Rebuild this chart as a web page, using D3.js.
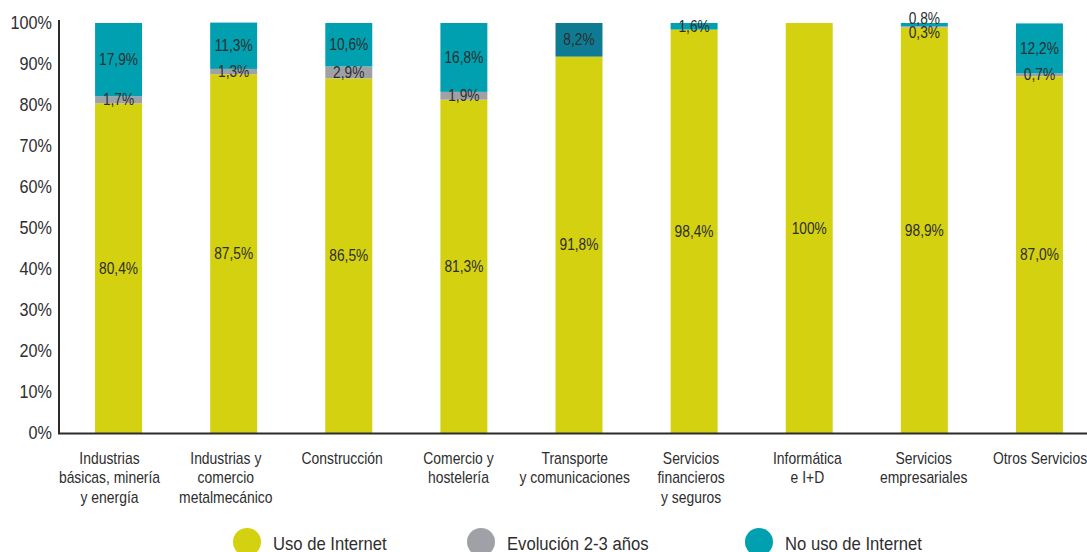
<!DOCTYPE html>
<html>
<head>
<meta charset="utf-8">
<script src="https://cdn.jsdelivr.net/npm/d3@7"></script>
<style>
  html, body { margin: 0; padding: 0; background: #fff; }
  svg { display: block; }
</style>
</head>
<body>
<script>
// ---- Data ----
const categories = [
  "Industrias\nbásicas, minería\ny energía",
  "Industrias y\ncomercio\nmetalmecánico",
  "Construcción",
  "Comercio y\nhostelería",
  "Transporte\ny comunicaciones",
  "Servicios\nfinancieros\ny seguros",
  "Informática\ne I+D",
  "Servicios\nempresariales",
  "Otros Servicios"
];
const seriesNames = ["Uso de Internet", "Evolución 2-3 años", "No uso de Internet"];
const usoInternet   = [80.4, 87.5, 86.5, 81.3, 91.8, 98.4, 100, 98.9, 87.0];
const evolucion     = [1.7, 1.3, 2.9, 1.9, 0, 0, 0, 0.3, 0.7];
const noUsoInternet = [17.9, 11.3, 10.6, 16.8, 8.2, 1.6, 0, 0.8, 12.2];
const yTicks = [0, 10, 20, 30, 40, 50, 60, 70, 80, 90, 100];

// ---- Layout ----
const W = 1087, H = 552;
const colors = ["#d4d110", "#a0a1a6", "#00a0b0"];
const darkTeal = "#0f7b93";
const font = "'Liberation Sans', Arial, Helvetica, sans-serif";
const txtColor = "#2e2e2e";

const svg = d3.select("body").append("svg").attr("width", W).attr("height", H);

// condensed text helper (horizontal squeeze of Liberation Sans)
function ctext(px, py, fs, sx, anchor) {
  return svg.append("text")
    .attr("transform", `translate(${px},${py}) scale(${sx},1)`)
    .attr("text-anchor", anchor)
    .attr("font-family", font)
    .attr("font-size", fs)
    .attr("fill", txtColor);
}

const x = d3.scaleBand().domain(categories).range([61, 1097]).paddingInner(0.592).paddingOuter(0.296);
// category label positions (slightly different spacing in the original layout)
const xLab = d3.scalePoint().domain(categories).range([109.5, 1040]);
const y = d3.scaleLinear().domain([0, 100]).range([433, 23]);

const seriesData = [usoInternet, evolucion, noUsoInternet];
const rows = categories.map((c, i) => {
  const r = { cat: c };
  seriesNames.forEach((s, k) => r[s] = seriesData[k][i]);
  return r;
});
const stack = d3.stack().keys(seriesNames)(rows);

// bars
stack.forEach((layer, k) => {
  svg.append("g").selectAll("rect").data(layer).join("rect")
    .attr("x", d => x(d.data.cat))
    .attr("width", x.bandwidth())
    .attr("y", d => y(d[1]))
    .attr("height", d => Math.max(0, y(d[0]) - y(d[1])))
    .attr("fill", d => (k === 2 && d.data.cat.startsWith("Transporte")) ? darkTeal : colors[k]);
});

// value labels with simple collision avoidance
const fmt = v => (v === 100 ? "100" : d3.format(".1f")(v).replace(".", ",")) + "%";
categories.forEach((c, i) => {
  const labs = [];
  stack.forEach((layer, k) => {
    const d = layer[i];
    const v = d[1] - d[0];
    if (v > 0) labs.push({ v: seriesData[k][i], yy: y((d[0] + d[1]) / 2) });
  });
  labs.sort((a, b) => b.yy - a.yy);
  for (let j = 1; j < labs.length; j++) {
    const gap = labs[j - 1].yy - labs[j].yy;
    if (gap < 14) {
      const shift = (14 - gap) / 2;
      labs[j - 1].yy += shift;
      labs[j].yy -= shift;
    }
  }
  labs.forEach(l => {
    ctext(x(c) + x.bandwidth() / 2, l.yy, 16, 0.86, "middle")
      .attr("dy", "0.35em")
      .text(fmt(l.v));
  });
});

// y axis tick labels
yTicks.forEach(t => {
  ctext(52, y(t), 18, 0.9, "end").attr("dy", "0.35em").text(t + "%");
});

svg.append("line").attr("x1", 59).attr("x2", 59).attr("y1", 20).attr("y2", 434)
  .attr("stroke", "#2b2b2b").attr("stroke-width", 2);
svg.append("line").attr("x1", 58).attr("x2", W).attr("y1", 433.5).attr("y2", 433.5)
  .attr("stroke", "#2b2b2b").attr("stroke-width", 2);

// category labels
categories.forEach(c => {
  const t = ctext(xLab(c), 464, 15.8, 0.88, "middle");
  c.split("\n").forEach((ln, j) => {
    t.append("tspan").attr("x", 0).attr("dy", j === 0 ? 0 : 19.5).text(ln);
  });
});

// legend
const legendX = [247, 481, 759];
seriesNames.forEach((s, k) => {
  svg.append("circle").attr("cx", legendX[k]).attr("cy", 542).attr("r", 14).attr("fill", colors[k]);
  ctext(legendX[k] + 26, 550, 18.5, 0.9, "start").text(s);
});
</script>
</body>
</html>
